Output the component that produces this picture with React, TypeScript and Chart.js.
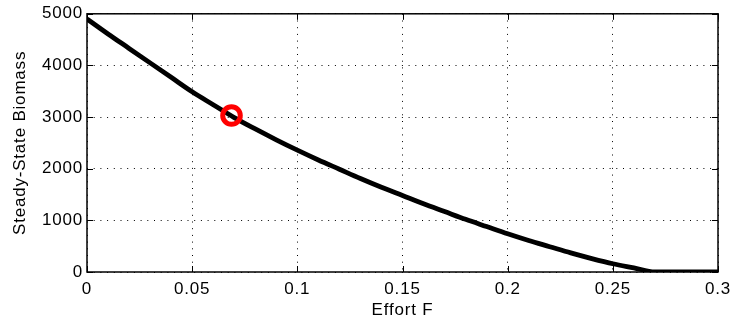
import React, { useEffect, useRef } from "react";
import { Chart, registerables } from "chart.js";

Chart.register(...registerables);

// Effort F values (x) and steady-state biomass
const effortF = [0, 0.01, 0.02, 0.03, 0.04, 0.05, 0.06, 0.07, 0.08, 0.09, 0.1, 0.11, 0.12, 0.13, 0.14, 0.15, 0.16, 0.17, 0.18, 0.19, 0.2, 0.21, 0.22, 0.23, 0.24, 0.25, 0.26, 0.27, 0.28, 0.29, 0.3];
const biomass = [4900, 4610, 4330, 4050, 3770, 3490, 3240, 2990, 2770, 2560, 2360, 2170, 1990, 1810, 1640, 1480, 1320, 1170, 1020, 880, 740, 610, 490, 370, 260, 160, 80, 0, 0, 0, 0];

// highlighted point
const markerF = [0.0687];
const markerB = [3030];

const xTicks = [0, 0.05, 0.1, 0.15, 0.2, 0.25, 0.3];
const yTicks = [0, 1000, 2000, 3000, 4000, 5000];

const FONT = "'Liberation Sans', Arial, Helvetica, sans-serif";

const boxPlugin = {
  id: "matlabBox",
  beforeDraw(chart: any) {
    chart.ctx.letterSpacing = "0.8px";
  },
  afterDraw(chart: any) {
    const { ctx, chartArea, scales } = chart;
    const { left, right, top, bottom } = chartArea;
    ctx.save();
    ctx.setLineDash([]);
    ctx.strokeStyle = "#000";
    ctx.lineWidth = 1;
    const tl = 6;
    ctx.beginPath();
    for (const v of xTicks) {
      const px = Math.round(scales.x.getPixelForValue(v)) + 0.5;
      ctx.moveTo(px, bottom);
      ctx.lineTo(px, bottom - tl);
      ctx.moveTo(px, top);
      ctx.lineTo(px, top + tl);
    }
    for (const v of yTicks) {
      const py = Math.round(scales.y.getPixelForValue(v)) + 0.5;
      ctx.moveTo(left, py);
      ctx.lineTo(left + tl, py);
      ctx.moveTo(right, py);
      ctx.lineTo(right - tl, py);
    }
    ctx.stroke();
    ctx.lineWidth = 1.5;
    ctx.strokeRect(left, top, right - left, bottom - top);
    ctx.restore();
  },
};

export default function App() {
  const ref = useRef<HTMLCanvasElement | null>(null);

  useEffect(() => {
    document.body.style.margin = "0";
    const canvas = ref.current;
    if (!canvas) return;
    const curve = effortF.map((x, i) => ({ x, y: biomass[i] }));
    const marker = markerF.map((x, i) => ({ x, y: markerB[i] }));
    const chart = new Chart(canvas, {
      type: "scatter",
      data: {
        datasets: [
          {
            data: marker,
            showLine: false,
            pointStyle: "circle",
            pointRadius: 8.8,
            pointBorderWidth: 5,
            pointBorderColor: "#ff0000",
            pointBackgroundColor: "rgba(0,0,0,0)",
            clip: false as any,
            order: 0,
          },
          {
            data: curve,
            showLine: true,
            borderColor: "#000",
            borderWidth: 4.8,
            pointRadius: 0,
            tension: 0.3,
            cubicInterpolationMode: "monotone",
            clip: 0 as any,
            order: 1,
          },
        ],
      },
      options: {
        animation: false,
        responsive: false,
        devicePixelRatio: 1,
        layout: { padding: { left: 0, right: 15, top: 5, bottom: 0 } },
        plugins: { legend: { display: false }, tooltip: { enabled: false } },
        scales: {
          x: {
            type: "linear",
            min: 0,
            max: 0.3,
            afterBuildTicks: (s: any) => {
              s.ticks = xTicks.map((v) => ({ value: v }));
            },
            afterFit: (s: any) => {
              s.height = 57;
              s.paddingLeft = 0;
              s.paddingRight = 0;
              s.paddingTop = 0;
              s.paddingBottom = 0;
            },
            ticks: {
              color: "#000",
              padding: 7,
              maxRotation: 0,
              autoSkip: false,
              font: { family: FONT, size: 17 },
              callback: (v: any) => String(v),
            },
            grid: { color: "#000", lineWidth: 1, drawTicks: false },
            border: { display: false, dash: [1, 5.7] },
            title: {
              display: true,
              text: "Effort F",
              color: "#000",
              font: { family: FONT, size: 17 },
              padding: { top: 0, bottom: 8 },
            },
          },
          y: {
            type: "linear",
            min: 0,
            max: 5000,
            afterBuildTicks: (s: any) => {
              s.ticks = yTicks.map((v) => ({ value: v }));
            },
            afterFit: (s: any) => {
              s.width = 87;
              s.paddingLeft = 0;
              s.paddingRight = 0;
              s.paddingTop = 0;
              s.paddingBottom = 0;
            },
            ticks: {
              color: "#000",
              padding: 4,
              autoSkip: false,
              font: { family: FONT, size: 17 },
              callback: (v: any) => String(v),
            },
            grid: { color: "#000", lineWidth: 1, drawTicks: false },
            border: { display: false, dash: [1, 5.7] },
            title: {
              display: true,
              text: "Steady-State Biomass",
              color: "#000",
              font: { family: FONT, size: 17 },
              padding: { top: 10, bottom: 0 },
            },
          },
        },
      },
      plugins: [boxPlugin],
    });
    return () => chart.destroy();
  }, []);

  return (
    <div style={{ width: 733, height: 329 }}>
      <canvas ref={ref} width={733} height={329} style={{ display: "block" }} />
    </div>
  );
}
